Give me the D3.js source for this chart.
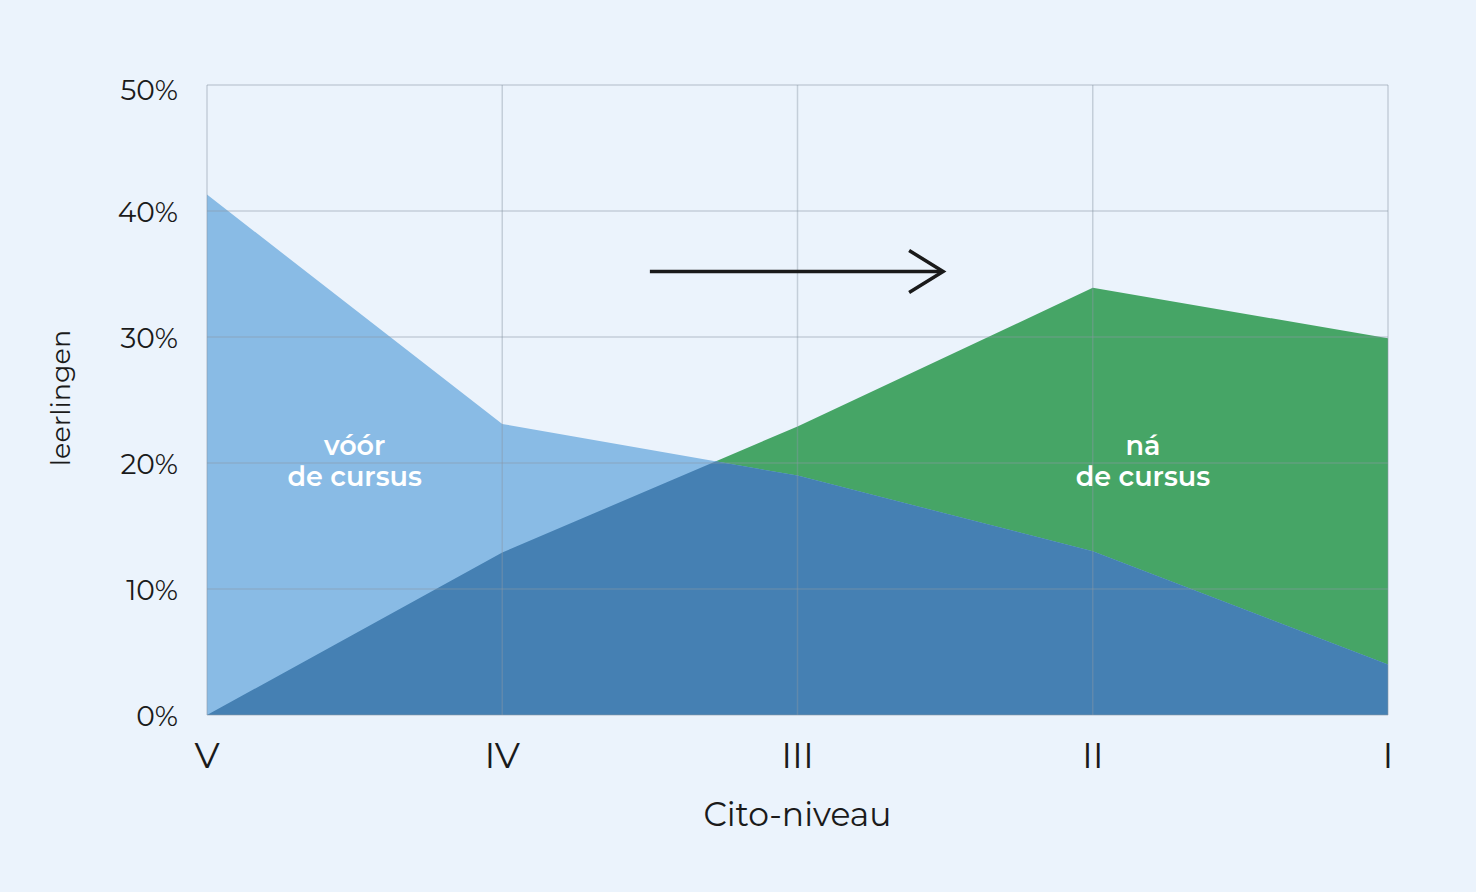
<!DOCTYPE html>
<html>
<head>
<meta charset="utf-8">
<script src="https://cdn.jsdelivr.net/npm/d3@7"></script>
<style>
  body { margin: 0; background: #ebf3fc; }
  text { font-family: "Montserrat", "Lato", "Open Sans", sans-serif; }
</style>
</head>
<body>
<svg id="chart" width="1476" height="892"></svg>
<script>
"use strict";

// Cito levels, worst to best
const levels = ["V", "IV", "III", "II", "I"];
// share of pupils before the course (%)
const before = [41.3, 23.1, 19.0, 13.0, 4.0];
// share of pupils after the course (%)
const after = [0, 12.9, 22.9, 33.9, 29.9];
const yTicks = [0, 10, 20, 30, 40, 50];

const svg = d3.select("#chart");
svg.append("rect").attr("width", 1476).attr("height", 892).attr("fill", "#ebf3fc");

const x = d3.scaleLinear().domain([0, levels.length - 1]).range([207, 1388]);
const y = d3.scaleLinear().domain([0, 50]).range([715, 85]);

let area = vals => d3.area()
  .x((d, i) => x(i))
  .y0(y(0))
  .y1(d => y(d))(vals);

// clip for the overlap of both areas
svg.append("clipPath").attr("id", "afterClip")
  .append("path").attr("d", area(after));

svg.append("path").attr("d", area(after)).attr("fill", "#46a566");
svg.append("path").attr("d", area(before)).attr("fill", "#89bbe5");
svg.append("path").attr("d", area(before)).attr("fill", "#4580b3")
  .attr("clip-path", "url(#afterClip)");

// grid on top, thin grey
let grid = svg.append("g").attr("stroke", "#8a96a6").attr("stroke-opacity", 0.4).attr("stroke-width", 1.5);
grid.selectAll(".h").data(yTicks).enter().append("line")
  .attr("x1", x(0)).attr("x2", x(4))
  .attr("y1", d => y(d)).attr("y2", d => y(d));
grid.selectAll(".v").data(levels).enter().append("line")
  .attr("x1", (d, i) => x(i)).attr("x2", (d, i) => x(i))
  .attr("y1", y(0)).attr("y2", y(50));

// y tick labels
svg.selectAll(".ytick").data(yTicks).enter().append("text")
  .attr("x", 178)
  .attr("y", d => y(d) + 11 + (d === 50 ? 4 : 0))
  .attr("text-anchor", "end")
  .attr("font-size", 28)
  .attr("fill", "#1a1a1a")
  .text(d => d + "%");

// x tick labels
svg.selectAll(".xtick").data(levels).enter().append("text")
  .attr("x", (d, i) => x(i))
  .attr("y", 768)
  .attr("text-anchor", "middle")
  .attr("font-size", 36)
  .attr("fill", "#1a1a1a")
  .text(d => d);

svg.append("text")
  .attr("x", x(2)).attr("y", 826)
  .attr("text-anchor", "middle")
  .attr("font-size", 33)
  .attr("fill", "#1a1a1a")
  .text("Cito-niveau");

svg.append("text")
  .attr("transform", "translate(70,398) rotate(-90)")
  .attr("text-anchor", "middle")
  .attr("font-size", 27)
  .attr("fill", "#1a1a1a")
  .text("leerlingen");

// area labels
let areaLabel = (xi, lines) => {
  let t = svg.append("text")
    .attr("x", x(xi)).attr("y", 455)
    .attr("text-anchor", "middle")
    .attr("font-size", 27)
    .attr("font-weight", 600)
    .attr("fill", "#ffffff");
  lines.forEach((s, i) => t.append("tspan").attr("x", x(xi)).attr("dy", i ? 31 : 0).text(s));
};
areaLabel(0.5, ["vóór", "de cursus"]);
areaLabel(3.17, ["ná", "de cursus"]);

// arrow
let ay = y(35.2);
svg.append("line")
  .attr("x1", x(1.5)).attr("x2", x(2.5) - 4)
  .attr("y1", ay).attr("y2", ay)
  .attr("stroke", "#1a1a1a").attr("stroke-width", 3.5);
svg.append("path")
  .attr("d", `M${x(2.5) - 36},${ay - 21} L${x(2.5) - 2},${ay} L${x(2.5) - 36},${ay + 21}`)
  .attr("fill", "none").attr("stroke", "#1a1a1a").attr("stroke-width", 3.5);
</script>
</body>
</html>
